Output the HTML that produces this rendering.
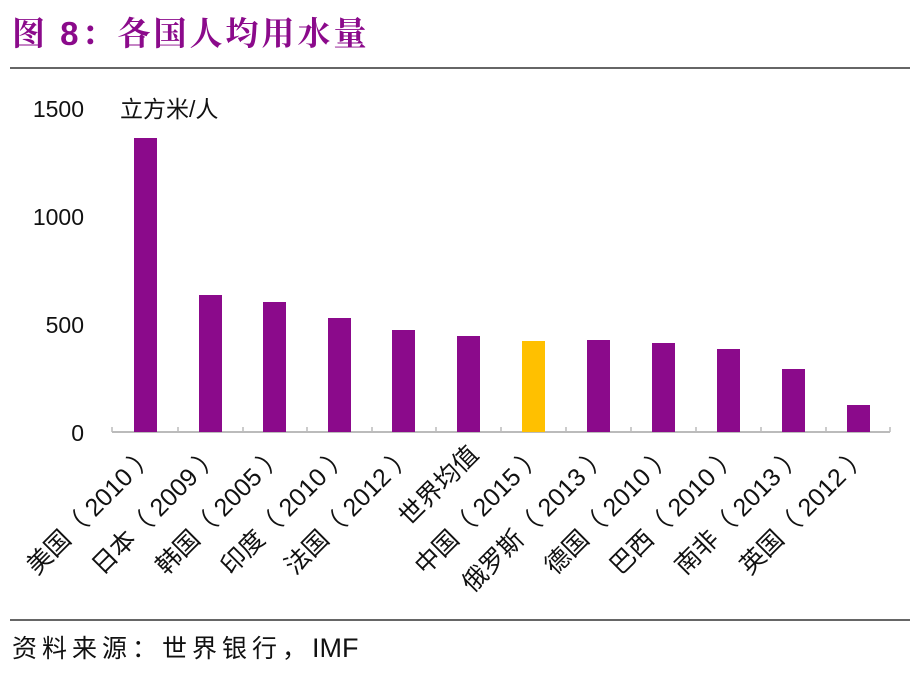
<!DOCTYPE html>
<html><head><meta charset="utf-8"><style>
body{margin:0;background:#fff;}
svg{display:block;font-family:"Liberation Sans","Noto Sans CJK SC",sans-serif;}
</style></head><body>
<svg width="921" height="679" xmlns="http://www.w3.org/2000/svg">
<text x="12" y="45" font-size="33" font-weight="bold" fill="#8B0A8B" letter-spacing="3" font-family="'Liberation Sans','Noto Serif CJK SC',serif">图 8：各国人均用水量</text>
<line x1="10" y1="68" x2="910" y2="68" stroke="#333" stroke-width="1.5"/>
<line x1="10" y1="620" x2="910" y2="620" stroke="#333" stroke-width="1.5"/>
<text x="12" y="657" font-size="25" fill="#111"><tspan letter-spacing="5">资料来源：世界银行，</tspan><tspan font-size="27">IMF</tspan></text>
<g font-size="23" fill="#111" text-anchor="end">
<text x="84" y="117">1500</text>
<text x="84" y="225">1000</text>
<text x="84" y="333">500</text>
<text x="84" y="441">0</text>
</g>
<text x="120" y="117" font-size="23" fill="#111">立方米/人</text>
<line x1="112" y1="432" x2="890" y2="432" stroke="#bbb" stroke-width="2"/>
<g stroke="#bbb" stroke-width="1.5">
<line x1="112" y1="427" x2="112" y2="432"/><line x1="178" y1="427" x2="178" y2="432"/><line x1="243" y1="427" x2="243" y2="432"/><line x1="307" y1="427" x2="307" y2="432"/><line x1="372" y1="427" x2="372" y2="432"/><line x1="436" y1="427" x2="436" y2="432"/><line x1="501" y1="427" x2="501" y2="432"/><line x1="566" y1="427" x2="566" y2="432"/><line x1="631" y1="427" x2="631" y2="432"/><line x1="696" y1="427" x2="696" y2="432"/><line x1="761" y1="427" x2="761" y2="432"/><line x1="826" y1="427" x2="826" y2="432"/><line x1="890" y1="427" x2="890" y2="432"/>
</g>
<g fill="#8B0A8B">
<rect x="134" y="138" width="23" height="294"/>
<rect x="199" y="295" width="23" height="137"/>
<rect x="263" y="302" width="23" height="130"/>
<rect x="328" y="318" width="23" height="114"/>
<rect x="392" y="330" width="23" height="102"/>
<rect x="457" y="336" width="23" height="96"/>
<rect x="522" y="341" width="23" height="91" fill="#FFC000"/>
<rect x="587" y="340" width="23" height="92"/>
<rect x="652" y="343" width="23" height="89"/>
<rect x="717" y="349" width="23" height="83"/>
<rect x="782" y="369" width="23" height="63"/>
<rect x="847" y="405" width="23" height="27"/>
</g>
<g font-size="25" fill="#111" text-anchor="end">
<text transform="translate(157,456) rotate(-45)">美国（ 2010 ）</text>
<text transform="translate(222,456) rotate(-45)">日本（ 2009 ）</text>
<text transform="translate(286,456) rotate(-45)">韩国（ 2005 ）</text>
<text transform="translate(351,456) rotate(-45)">印度（ 2010 ）</text>
<text transform="translate(415,456) rotate(-45)">法国（ 2012 ）</text>
<text transform="translate(480,456) rotate(-45)">世界均值</text>
<text transform="translate(545,456) rotate(-45)">中国（ 2015 ）</text>
<text transform="translate(610,456) rotate(-45)">俄罗斯（ 2013 ）</text>
<text transform="translate(675,456) rotate(-45)">德国（ 2010 ）</text>
<text transform="translate(740,456) rotate(-45)">巴西（ 2010 ）</text>
<text transform="translate(805,456) rotate(-45)">南非（ 2013 ）</text>
<text transform="translate(870,456) rotate(-45)">英国（ 2012 ）</text>
</g>
</svg>
</body></html>
